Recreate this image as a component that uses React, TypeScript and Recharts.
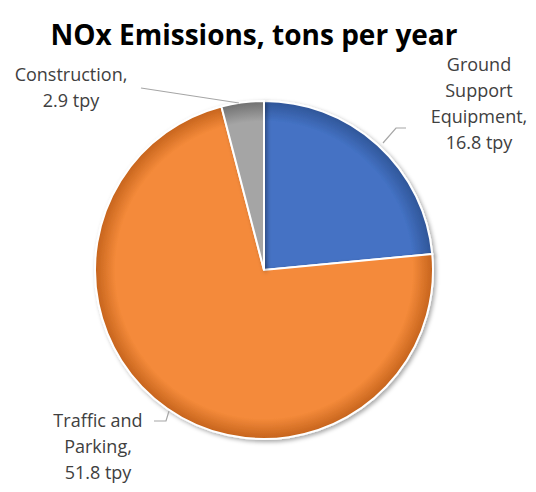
import { PieChart, Pie, Cell } from 'recharts';

const categories = ['Ground Support Equipment', 'Traffic and Parking', 'Construction'];
const values = [16.8, 51.8, 2.9];
const labelLines = [
  ['Ground', 'Support', 'Equipment,', '16.8 tpy'],
  ['Traffic and', 'Parking,', '51.8 tpy'],
  ['Construction,', '2.9 tpy'],
];

const colors = ['#4472C4', '#F48A3A', '#A5A5A5'];
const edges = ['#2F5597', '#C5631C', '#6F6F6F'];

// label block placement relative to pie centre, plus leader line points
const labelLayout = [
  { dx: 215, dy: -199, line: [[142, -142], [132, -142], [119, -127]] },
  { dx: -166, dy: 157, line: [[-110, 151], [-98, 151], [-95, 141]] },
  { dx: -193, dy: -189, line: [[-123, -182], [-25, -167]] },
];

const data = categories.map((name, i) => ({ name, value: values[i], lines: labelLines[i] }));

const W = 536;
const H = 492;
const CX = 264;
const CY = 270;
const R = 169;

const renderLabel = (props: any) => {
  const { cx, cy, index } = props;
  const lay = labelLayout[index];
  const lines: string[] = data[index].lines;
  const x = cx + lay.dx;
  const y = cy + lay.dy;
  const pts = lay.line.map(([px, py]) => `${cx + px},${cy + py}`).join(' ');
  return (
    <g key={`lbl-${index}`}>
      <polyline points={pts} fill="none" stroke="#A6A6A6" strokeWidth={1.2} />
      <text x={x} y={y} textAnchor="middle" fill="#404040" fontSize={18} fontFamily="'Open Sans', sans-serif">
        {lines.map((l, i) => (
          <tspan key={i} x={x} dy={i === 0 ? 0 : 26}>
            {l}
          </tspan>
        ))}
      </text>
    </g>
  );
};

export default function App() {
  return (
    <div style={{ position: 'absolute', left: 0, top: 0, width: W, height: H, background: '#fff' }}>
      <PieChart width={W} height={H} margin={{ top: 0, right: 0, bottom: 0, left: 0 }}>
        <defs>
          {colors.map((c, i) => (
            <radialGradient key={i} id={`g${i}`} cx={CX} cy={CY} r={R} gradientUnits="userSpaceOnUse">
              <stop offset="0%" stopColor={c} />
              <stop offset="88%" stopColor={c} />
              <stop offset="100%" stopColor={edges[i]} />
            </radialGradient>
          ))}
          <filter id="shadow" x="-20%" y="-20%" width="140%" height="140%">
            <feDropShadow dx="2" dy="2" stdDeviation="2" floodColor="#000" floodOpacity="0.35" />
          </filter>
        </defs>
        <text x={254} y={45} textAnchor="middle" fill="#000" fontSize={28} fontWeight="bold" fontFamily="'Open Sans', sans-serif">
          NOx Emissions, tons per year
        </text>
        <Pie
          data={data}
          dataKey="value"
          nameKey="name"
          cx={CX}
          cy={CY}
          outerRadius={R}
          startAngle={90}
          endAngle={-270}
          stroke="#fff"
          strokeWidth={2}
          label={renderLabel}
          labelLine={false}
          isAnimationActive={false}
          style={{ filter: 'url(#shadow)' }}
        >
          {data.map((d, i) => (
            <Cell key={d.name} fill={`url(#g${i})`} />
          ))}
        </Pie>
      </PieChart>
    </div>
  );
}
